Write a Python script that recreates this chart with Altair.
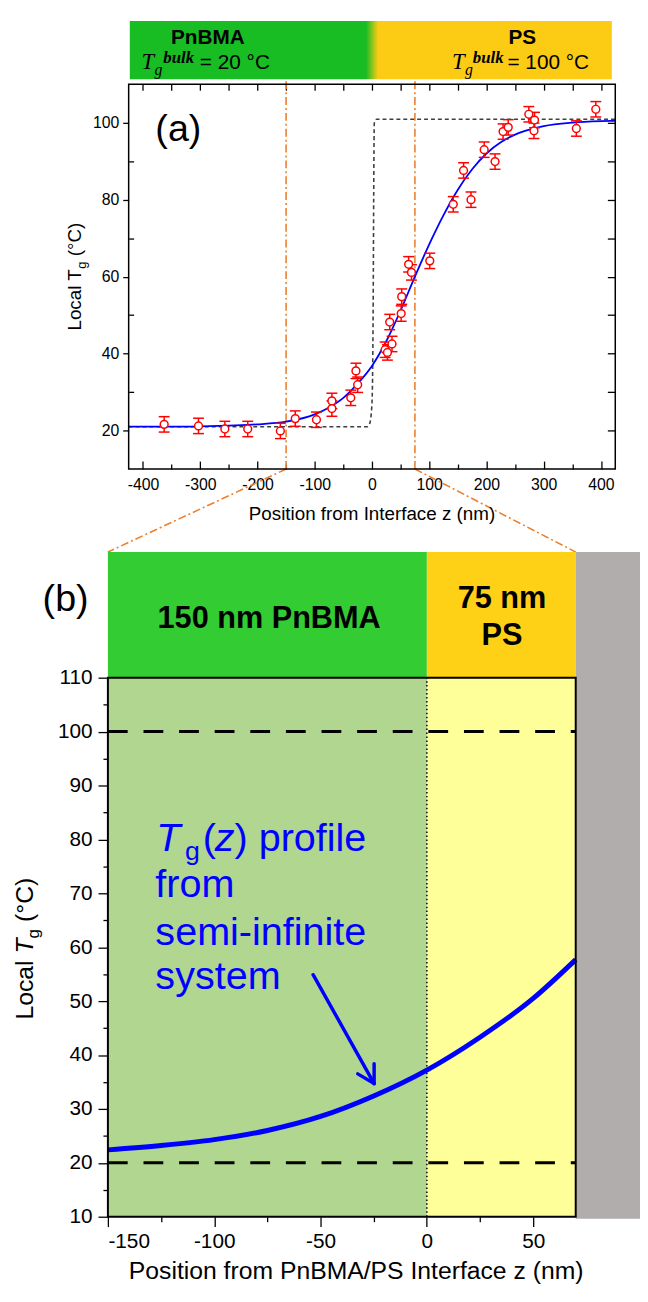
import altair as alt
import pandas as pd

# ---------------- data ----------------
# panel (a): measured local Tg points with error bars
a_z = [-363, -303, -257, -217, -160, -134, -97, -70, -70, -37, -28, -25, 23, 27, 35,
       31, 51, 52, 64, 69, 101, 142, 160, 173, 196, 215, 229, 238, 274, 284, 283, 357, 391]
a_tg = [21.6, 21.2, 20.4, 20.4, 19.9, 23.1, 22.8, 27.7, 25.7, 28.5, 35.5, 31.9, 41.0, 40.3, 42.5,
        48.2, 50.4, 54.8, 63.2, 61.1, 64.1, 78.8, 87.6, 80.0, 93.0, 89.9, 97.7, 98.8, 102.2, 100.7, 97.9, 98.5, 103.5]
a_err = [2.0, 2.0, 2.0, 2.0, 2.0, 2.0, 2.0, 2.0, 2.0, 2.0, 2.0, 2.0, 2.0, 2.0, 2.0,
         2.0, 2.0, 2.0, 2.0, 2.0, 2.0, 2.0, 2.0, 2.0, 2.0, 2.0, 2.0, 2.0, 2.0, 2.0, 2.0, 2.0, 2.0]
# panel (a): fitted profile (blue)
fit_z = [-425, -350, -300, -250, -200, -150, -100, -75, -50, -25, 0, 25, 50, 75, 100,
         125, 150, 175, 200, 225, 250, 275, 300, 350, 400, 425]
fit_tg = [21.0, 21.0, 21.1, 21.3, 21.6, 22.3, 24.2, 26.0, 28.5, 32.2, 36.8, 43.2, 51.2, 60.0, 68.4,
          76.0, 82.6, 87.9, 92.0, 94.9, 96.9, 98.2, 99.1, 100.0, 100.4, 100.5]
# panel (a): bulk step profile (dashed)
step_z = [-425, -8, -4, 0, 2, 3, 4, 8, 425]
step_tg = [21.0, 21.0, 21.8, 27.0, 50.0, 80.0, 99.8, 100.9, 100.9]
# panel (b): profile in the bilayer
b_z = [-150, -125, -100, -75, -50, -25, 0, 25, 50, 70]
b_tg = [22.4, 23.2, 24.3, 26.0, 28.6, 32.4, 37.2, 43.3, 50.5, 57.7]
# bulk reference levels in (b)
b_levels = [20, 100]

# tick values
a_x_major = [-400, -300, -200, -100, 0, 100, 200, 300, 400]
a_x_minor = [-350, -250, -150, -50, 50, 150, 250, 350]
a_x_top = [-400, -350, -300, -250, -200, -150, -100, -50, 0, 50, 100, 150, 200, 250, 300, 350, 400]
a_y_major = [20, 40, 60, 80, 100]
a_y_minor = [30, 50, 70, 90]
a_y_right = [20, 30, 40, 50, 60, 70, 80, 90, 100]
b_x_major = [-150, -100, -50, 0, 50]
b_x_minor = [-125, -75, -25, 25]
b_y_major = [10, 20, 30, 40, 50, 60, 70, 80, 90, 100, 110]
b_y_minor = [15, 25, 35, 45, 55, 65, 75, 85, 95, 105]
b_y_right = [15, 20, 25, 30, 35, 40, 45, 50, 55, 60, 65, 70, 75, 80, 85, 90, 95, 100, 105]

# ---------------- layout ----------------
W, H = 639, 1283
AX0, AX1, AY0, AY1 = 122, 614, 70, 459      # panel (a) plot rectangle
BX0, BX1, BY0, BY1 = 101, 574, 670, 1215    # panel (b) plot rectangle
A_XD, A_YD = [-425, 425], [10, 110]
B_XD, B_YD = [-150, 70], [10, 110]
FONT = "Liberation Sans"
SERIF = "Liberation Serif"
RED, BLUE, ORANGE = "#FF0000", "#0000FF", "#EE7F2D"


def sc(dom, rng):
    return alt.Scale(domain=dom, range=rng, nice=False, zero=False)


SA_X, SA_Y = sc(A_XD, [AX0, AX1]), sc(A_YD, [AY1, AY0])
SB_X, SB_Y = sc(B_XD, [BX0, BX1]), sc(B_YD, [BY1, BY0])


def px_a(v):
    return AX0 + (v - A_XD[0]) / (A_XD[1] - A_XD[0]) * (AX1 - AX0)


def enc(panel, x='x', y='y', x2=None, y2=None, xaxis=None, yaxis=None):
    sx, sy = (SA_X, SA_Y) if panel == 'a' else (SB_X, SB_Y)
    e = {'x': alt.X(f'{x}:Q', scale=sx, axis=xaxis), 'y': alt.Y(f'{y}:Q', scale=sy, axis=yaxis)}
    if x2:
        e['x2'] = alt.X2(f'{x2}:Q')
    if y2:
        e['y2'] = alt.Y2(f'{y2}:Q')
    return e


def ax(**kw):
    base = dict(domain=False, grid=False, title=None, labelFont=FONT, labelColor='black',
                tickColor='black', tickWidth=1.3, labelExpr="'' + datum.value")
    base.update(kw)
    return alt.Axis(**base)


dummy = pd.DataFrame({'x': [0], 'y': [50]})


def axis_layer(panel, xaxis=None, yaxis=None):
    return alt.Chart(dummy).mark_point(opacity=0).encode(**enc(panel, xaxis=xaxis, yaxis=yaxis))


def box(x0, x1, y0, y1):
    return pd.DataFrame({'x': [x0], 'x2': [x1], 'y': [y0], 'y2': [y1]})


def txt(s, x, y, size, **kw):
    props = dict(text=s, font=FONT, fontSize=size, align='left', baseline='alphabetic', color='black')
    props.update(kw)
    return alt.Chart(dummy).mark_text(**props).encode(x=alt.value(x), y=alt.value(y))


layers = []

# ================= panel (a) =================
grad = alt.Gradient(gradient='linear', x1=0, x2=1, y1=0, y2=0,
                    stops=[alt.GradientStop(color='#17BD23', offset=0),
                           alt.GradientStop(color='#17BD23', offset=0.49),
                           alt.GradientStop(color='#FCCB14', offset=0.515),
                           alt.GradientStop(color='#FCCB14', offset=1)])
layers.append(alt.Chart(box(-423, 419, 111.3, 126.45)).mark_rect(fill=grad)
              .encode(**enc('a', x2='x2', y2='y2')))
for (name, cx, tx, gx, bx, vx, val) in [("PnBMA", 202, 135, 148, 157, 194, "= 20 °C"),
                                        ("PS", 520, 449, 462, 470, 505, "= 100 °C")]:
    layers.append(txt(name, cx, 29, 21, fontWeight='bold', align='center'))
    layers.append(txt("T", tx, 55, 23, font=SERIF, fontStyle='italic'))
    layers.append(txt("g", gx, 61, 16, font=SERIF, fontStyle='italic'))
    layers.append(txt("bulk", bx, 49, 17, font=SERIF, fontStyle='italic', fontWeight='bold'))
    layers.append(txt(val, vx, 55, 21))

# orange guide lines
guides = pd.DataFrame({'x': [-150, 75], 'y': [10, 10], 'y2': [111.3, 111.3]})
DASHDOT = [8, 3, 2, 3]
layers.append(alt.Chart(guides).mark_rule(color=ORANGE, strokeWidth=1.6, strokeDash=DASHDOT)
              .encode(**enc('a', y2='y2')))
for zc, bx in [(-150, BX0), (75, BX1)]:
    layers.append(alt.Chart(dummy).mark_rule(color=ORANGE, strokeWidth=1.6, strokeDash=DASHDOT)
                  .encode(x=alt.value(px_a(zc)), y=alt.value(AY1),
                          x2=alt.value(bx), y2=alt.value(BY0 - 127)))

df_step = pd.DataFrame({'x': step_z, 'y': step_tg})
layers.append(alt.Chart(df_step).mark_line(color='#404040', strokeWidth=1.6, strokeDash=[4, 3],
                                           interpolate='monotone').encode(**enc('a')))
df_fit = pd.DataFrame({'x': fit_z, 'y': fit_tg})
layers.append(alt.Chart(df_fit).mark_line(color=BLUE, strokeWidth=1.8, interpolate='monotone')
              .encode(**enc('a')))

df_pts = pd.DataFrame({'x': a_z, 'y': a_tg, 'err': a_err})
df_pts['lo'] = df_pts['y'] - df_pts['err']
df_pts['hi'] = df_pts['y'] + df_pts['err']
layers.append(alt.Chart(df_pts).mark_rule(color=RED, strokeWidth=1.5)
              .encode(**enc('a', y='lo', y2='hi')))
for end in ['lo', 'hi']:
    layers.append(alt.Chart(df_pts).mark_rule(color=RED, strokeWidth=1.5, xOffset=-5.5, x2Offset=5.5)
                  .encode(**enc('a', y=end, x2='x')))
layers.append(alt.Chart(df_pts).mark_point(shape='circle', size=62, filled=True, fill='white',
                                           stroke=RED, strokeWidth=1.5, opacity=1)
              .encode(**enc('a')))
layers.append(txt("(a)", 149, 127, 38))
layers.append(alt.Chart(box(-425, 425, 10, 110)).mark_rect(fillOpacity=0, stroke='black', strokeWidth=1.5)
              .encode(**enc('a', x2='x2', y2='y2')))

# axes of (a)
layers.append(axis_layer('a',
                         xaxis=ax(orient='bottom', offset=AY1 - H, values=a_x_major, ticks=False, tickSize=0,
                                  labelFontSize=16, labelPadding=8),
                         yaxis=ax(orient='left', offset=-AX0, values=a_y_major, tickSize=6,
                                  labelFontSize=16, labelPadding=4)))
layers.append(axis_layer('a',
                         xaxis=ax(orient='top', offset=-AY1, values=a_x_major, labels=False, tickSize=8),
                         yaxis=ax(orient='right', offset=AX0 - W, values=a_y_minor, labels=False, tickSize=5)))
layers.append(axis_layer('a',
                         xaxis=ax(orient='top', offset=-AY1, values=a_x_minor, labels=False, tickSize=5),
                         yaxis=ax(orient='left', offset=-AX1, values=a_y_right, labels=False, tickSize=8)))
layers.append(axis_layer('a',
                         xaxis=ax(orient='bottom', offset=AY0 - H, values=a_x_top, labels=False, tickSize=6)))

layers.append(txt("Position from Interface z (nm)", 368, 511, 19, align='center'))
layers.append(txt("Local T", 74, 319, 19, angle=270))
layers.append(txt("g", 79, 256.6, 13, angle=270))
layers.append(txt("(°C)", 74, 244.0, 19, angle=270))

# ================= panel (b) =================
layers.append(alt.Chart(box(-150, 0, 10, 110)).mark_rect(fill='#B0D690').encode(**enc('b', x2='x2', y2='y2')))
layers.append(alt.Chart(box(0, 70, 10, 110)).mark_rect(fill='#FFFF99').encode(**enc('b', x2='x2', y2='y2')))
layers.append(alt.Chart(box(-150, 0, 110, 133.3)).mark_rect(fill='#33CC33').encode(**enc('b', x2='x2', y2='y2')))
layers.append(alt.Chart(box(0, 70, 110, 133.3)).mark_rect(fill='#FED016').encode(**enc('b', x2='x2', y2='y2')))
layers.append(alt.Chart(box(70, 105, 9.6, 133.3)).mark_rect(fill='#B0ADAC').encode(**enc('b', x2='x2', y2='y2')))

df_lv = pd.DataFrame({'x': [-150, -150], 'x2': [70, 70], 'y': b_levels})
layers.append(alt.Chart(df_lv).mark_rule(color='black', strokeWidth=3, strokeDash=[20, 16])
              .encode(**enc('b', x2='x2')))
layers.append(alt.Chart(pd.DataFrame({'x': [0], 'y': [10], 'y2': [110]}))
              .mark_rule(color='black', strokeWidth=1.5, strokeDash=[1.5, 2.5])
              .encode(**enc('b', y2='y2')))
df_b = pd.DataFrame({'x': b_z, 'y': b_tg})
layers.append(alt.Chart(df_b).mark_line(color=BLUE, strokeWidth=5, interpolate='monotone')
              .encode(**enc('b')))
df_arrow = pd.DataFrame({'x': [-53.5, -32.5, -24.8], 'y': [54.9, 36.5, 38.4],
                         'x2': [-24.8, -24.8, -24.8], 'y2': [34.7, 34.7, 34.7]})
layers.append(alt.Chart(df_arrow).mark_rule(color=BLUE, strokeWidth=3.5, strokeCap='round')
              .encode(**enc('b', x2='x2', y2='y2')))

layers.append(txt("150 nm PnBMA", 264, 620, 31, fontWeight='bold', align='center'))
layers.append(txt("75 nm", 499.5, 600, 31, fontWeight='bold', align='center'))
layers.append(txt("PS", 499.5, 637, 31, fontWeight='bold', align='center'))
layers.append(txt("(b)", 35, 603, 38))

layers.append(txt("T", 150, 845, 40, color=BLUE, fontStyle='italic'))
layers.append(txt("g", 179, 854, 27, color=BLUE))
layers.append(txt("(", 197, 845, 40, color=BLUE))
layers.append(txt("z", 209, 845, 40, color=BLUE, fontStyle='italic'))
layers.append(txt(") profile", 229, 845, 40, color=BLUE))
layers.append(txt("from", 149, 892, 40, color=BLUE))
layers.append(txt("semi-infinite", 149, 940, 40, color=BLUE))
layers.append(txt("system", 149, 985, 40, color=BLUE))

layers.append(alt.Chart(box(-150, 70, 10, 110)).mark_rect(fillOpacity=0, stroke='black', strokeWidth=2)
              .encode(**enc('b', x2='x2', y2='y2')))

layers.append(axis_layer('b',
                         xaxis=ax(orient='bottom', offset=BY1 - H, values=b_x_major, tickSize=10,
                                  labelFontSize=21, labelPadding=4),
                         yaxis=ax(orient='left', offset=-BX0, values=b_y_major, tickSize=10,
                                  labelFontSize=21, labelPadding=6)))
layers.append(axis_layer('b',
                         xaxis=ax(orient='bottom', offset=BY1 - H, values=b_x_minor, labels=False, tickSize=5),
                         yaxis=ax(orient='left', offset=-BX0, values=b_y_minor, labels=False, tickSize=5)))
layers.append(axis_layer('b',
                         xaxis=ax(orient='bottom', offset=BY0 - H, values=b_x_major, labels=False, tickSize=8),
                         yaxis=ax(orient='left', offset=-BX1, values=b_y_right, labels=False, tickSize=10)))
layers.append(axis_layer('b',
                         xaxis=ax(orient='bottom', offset=BY0 - H, values=b_x_minor, labels=False, tickSize=5)))

layers.append(txt("Position from PnBMA/PS Interface z (nm)", 352, 1278, 25, align='center'))
layers.append(txt("Local", 25, 1015.6, 25, angle=270))
layers.append(txt("T", 25, 948.9, 25, angle=270, fontStyle='italic'))
layers.append(txt("g", 31, 933.6, 17, angle=270))
layers.append(txt("(°C)", 25, 917.0, 25, angle=270))

chart = (alt.layer(*layers)
         .resolve_scale(x='independent', y='independent')
         .properties(width=W, height=H, padding=0, autosize=alt.AutoSizeParams(type='none'),
                     background='white')
         .configure_view(strokeWidth=0))

chart.save("out.html", embed_options={"renderer": "svg", "actions": False})
